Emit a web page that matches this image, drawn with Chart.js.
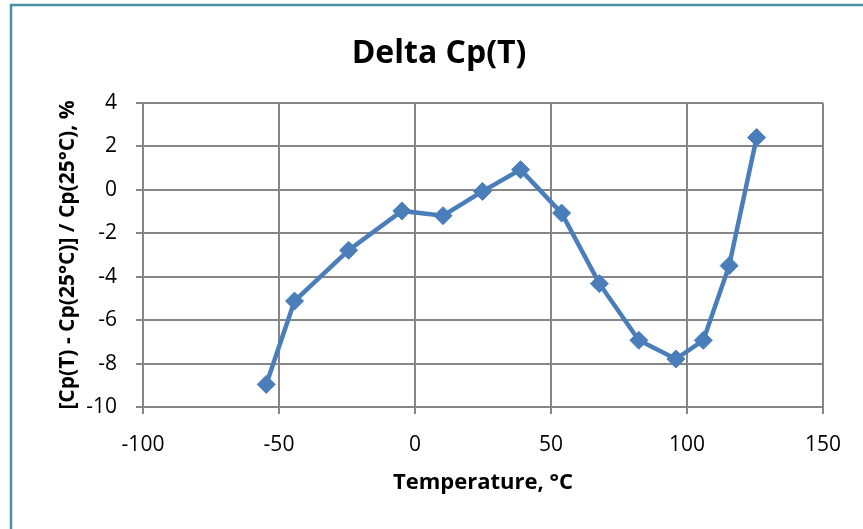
<!DOCTYPE html>
<html>
<head>
<meta charset="utf-8">
<script src="https://cdn.jsdelivr.net/npm/chart.js@4"></script>
<style>
  html, body { margin: 0; padding: 0; background: #fff; }
  #wrap { width: 863px; height: 529px; position: relative; }
</style>
</head>
<body>
<div id="wrap"><canvas id="cpChart" width="863" height="529"></canvas></div>
<script>
const temperaturas = [-54.7, -44.3, -24.4, -4.8, 10.3, 24.8, 38.8, 53.9, 67.8, 82.3, 95.9, 106.0, 115.5, 125.6];
const deltaCp = [-8.96, -5.12, -2.78, -0.97, -1.19, -0.07, 0.93, -1.07, -4.32, -6.93, -7.79, -6.93, -3.49, 2.41];
const ticksX = [-100, -50, 0, 50, 100, 150];
const ticksY = [4, 2, 0, -2, -4, -6, -8, -10];

const grisGrid = '#868686';
const azul = '#4a7ebb';
const fuente = '"Open Sans", Lato, sans-serif';

// marco del grafico (solo borde superior e izquierdo visibles)
const marco = {
  id: 'marco',
  beforeDraw(chart) {
    const c = chart.ctx;
    c.save();
    c.fillStyle = '#fff';
    c.fillRect(0, 0, chart.width, chart.height);
    c.strokeStyle = '#4a8fa3';
    c.lineWidth = 2.5;
    c.beginPath();
    c.moveTo(11, chart.height);
    c.lineTo(11, 5);
    c.lineTo(chart.width, 5);
    c.stroke();
    c.restore();
  }
};

const puntos = temperaturas.map((t, i) => ({ x: t, y: deltaCp[i] }));

new Chart(document.getElementById('cpChart'), {
  type: 'scatter',
  data: {
    datasets: [{
      data: puntos,
      showLine: true,
      borderColor: azul,
      backgroundColor: azul,
      borderWidth: 4.5,
      pointStyle: 'rectRot',
      pointRadius: 9,
      pointHoverRadius: 9,
      pointBorderWidth: 1,
      pointBackgroundColor: azul,
      pointBorderColor: azul,
      tension: 0
    }]
  },
  options: {
    responsive: false,
    animation: false,
    devicePixelRatio: 1,
    layout: { padding: { top: 0, right: 40, bottom: 0, left: 55 } },
    plugins: {
      legend: { display: false },
      tooltip: { enabled: false },
      title: {
        display: true,
        text: 'Delta Cp(T)',
        color: '#000',
        font: { family: fuente, size: 32, weight: 'bold', lineHeight: 1.2 },
        padding: { top: 35, bottom: 29.6 }
      }
    },
    scales: {
      x: {
        type: 'linear',
        min: -100,
        max: 150,
        afterBuildTicks: s => { s.ticks = ticksX.map(v => ({ value: v })); },
        afterFit: s => { s.height = 122; },
        grid: { color: grisGrid, lineWidth: 2, tickLength: 7, tickColor: grisGrid },
        border: { color: grisGrid, width: 2 },
        ticks: {
          color: '#000',
          padding: 18,
          font: { family: fuente, size: 21 }
        },
        title: {
          display: true,
          text: 'Temperature, °C',
          color: '#000',
          font: { family: fuente, size: 22, weight: 'bold', lineHeight: 1.2 },
          padding: { top: 0, bottom: 33 }
        }
      },
      y: {
        type: 'linear',
        min: -10,
        max: 4,
        afterBuildTicks: s => { s.ticks = ticksY.map(v => ({ value: v })); },
        afterFit: s => { s.width = 88; },
        grid: { color: grisGrid, lineWidth: 2, tickLength: 7, tickColor: grisGrid },
        border: { color: grisGrid, width: 2 },
        ticks: {
          color: '#000',
          padding: 19,
          font: { family: fuente, size: 21 }
        },
        title: {
          display: true,
          text: '[Cp(T) - Cp(25°C)] / Cp(25°C), %',
          color: '#000',
          font: { family: fuente, size: 21, weight: 'bold', lineHeight: 1.2 },
          padding: { top: 0, bottom: 0 }
        }
      }
    }
  },
  plugins: [marco]
});
</script>
</body>
</html>
